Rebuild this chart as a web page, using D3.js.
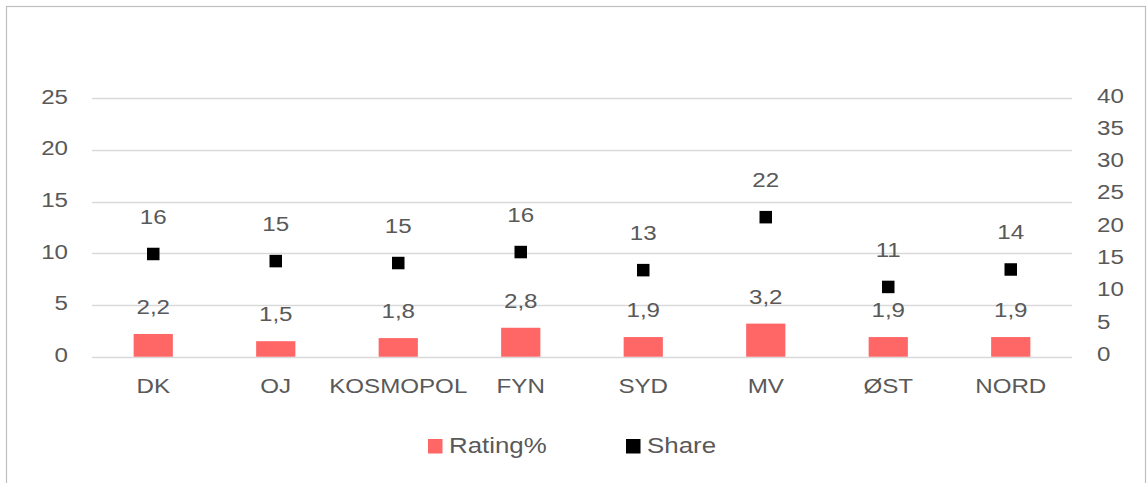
<!DOCTYPE html>
<html lang="da">
<head>
    <meta charset="UTF-8">
    <title>Rating% og Share</title>
    <script src="https://cdn.jsdelivr.net/npm/d3@7"></script>
    <style>
        body { margin: 0; background: #fff; }
        text { font-family: "Liberation Sans", Arial, Helvetica, sans-serif; fill: #595959; }
    </style>
</head>
<body>
<script>
// data
var categories = ["DK", "OJ", "KOSMOPOL", "FYN", "SYD", "MV", "ØST", "NORD"];
var rating = [2.2, 1.5, 1.8, 2.8, 1.9, 3.2, 1.9, 1.9];
var share = [15.9, 14.8, 14.5, 16.2, 13.4, 21.6, 10.8, 13.5];
var leftTicks = [0, 5, 10, 15, 20, 25];
var rightTicks = [0, 5, 10, 15, 20, 25, 30, 35, 40];
var seriesNames = ["Rating%", "Share"];
var seriesColors = ["#ff6666", "#000000"];

var W = 1147, H = 483;
var plotL = 92, plotR = 1072, plotT = 98.3, plotB = 356.7;
var fontSize = 21, legendFont = 22.5;
var stretch = "scale(1.15,1)";   // teksten er bredere i originalen

var svg = d3.select("body").append("svg")
    .attr("width", W)
    .attr("height", H);

// ramme
svg.append("rect")
    .attr("x", 6.5).attr("y", 6.5)
    .attr("width", 1139).attr("height", 500)
    .attr("fill", "none")
    .attr("stroke", "#bfbfbf")
    .attr("stroke-width", 1.2);

var x = d3.scaleBand().domain(categories).range([plotL, plotR]);
var yL = d3.scaleLinear().domain([0, 25]).range([plotB, plotT]);
var yR = d3.scaleLinear().domain([0, 40]).range([plotB, plotT]);
var cx = function (i) { return x(categories[i]) + x.bandwidth() / 2; };

// gitterlinjer
svg.append("g").selectAll("line")
    .data(leftTicks)
    .enter().append("line")
    .attr("x1", plotL).attr("x2", plotR)
    .attr("y1", function (d) { return Math.round(yL(d)) + 0.5; })
    .attr("y2", function (d) { return Math.round(yL(d)) + 0.5; })
    .attr("stroke", "#d9d9d9")
    .attr("stroke-width", 1.3);

function styleAxis(g) {
    g.select(".domain").remove();
    g.selectAll("text")
        .attr("font-size", fontSize)
        .attr("font-family", null)
        .attr("fill", "#595959")
        .attr("x", 0)
        .attr("transform", stretch);
}

// venstre akse
svg.append("g")
    .attr("transform", "translate(" + (plotL - 24) + ",-2)")
    .call(d3.axisLeft(yL).tickValues(leftTicks).tickSize(0).tickPadding(0))
    .call(styleAxis);

// højre akse
svg.append("g")
    .attr("transform", "translate(1097,-3)")
    .call(d3.axisRight(yR).tickValues(rightTicks).tickSize(0).tickPadding(0))
    .call(styleAxis);

// kategori-akse
svg.append("g")
    .attr("transform", "translate(0," + plotB + ")")
    .call(d3.axisBottom(x).tickSize(0).tickPadding(21))
    .call(styleAxis);

var barW = x.bandwidth() * 0.32;
var comma = function (v) { return d3.format(".1f")(v).replace(".", ","); };

// søjler
svg.append("g").selectAll("rect")
    .data(rating)
    .enter().append("rect")
    .attr("x", function (d, i) { return cx(i) - barW / 2; })
    .attr("y", function (d) { return yL(d); })
    .attr("width", barW)
    .attr("height", function (d) { return yL(0) - yL(d); })
    .attr("fill", seriesColors[0]);

svg.append("g").selectAll("text")
    .data(rating)
    .enter().append("text")
    .attr("transform", function (d, i) { return "translate(" + cx(i) + "," + (yL(d) - 20) + ")" + stretch; })
    .attr("text-anchor", "middle")
    .attr("font-size", fontSize)
    .text(function (d) { return comma(d); });

// share-punkter
var mk = 12.5;
svg.append("g").selectAll("rect")
    .data(share)
    .enter().append("rect")
    .attr("x", function (d, i) { return cx(i) - mk / 2; })
    .attr("y", function (d) { return yR(d) - mk / 2; })
    .attr("width", mk)
    .attr("height", mk)
    .attr("fill", seriesColors[1]);

svg.append("g").selectAll("text")
    .data(share)
    .enter().append("text")
    .attr("transform", function (d, i) { return "translate(" + cx(i) + "," + (yR(d) - 30) + ")" + stretch; })
    .attr("text-anchor", "middle")
    .attr("font-size", fontSize)
    .text(function (d) { return Math.round(d); });

// forklaring
var legendX = [428, 626];
var lg = svg.append("g").selectAll("g")
    .data(seriesNames)
    .enter().append("g")
    .attr("transform", function (d, i) { return "translate(" + legendX[i] + ",439)"; });
lg.append("rect")
    .attr("width", 14.5).attr("height", 14.5)
    .attr("fill", function (d, i) { return seriesColors[i]; });
lg.append("text")
    .attr("transform", "translate(21,13.5)" + stretch)
    .attr("font-size", legendFont)
    .text(function (d) { return d; });
</script>
</body>
</html>
